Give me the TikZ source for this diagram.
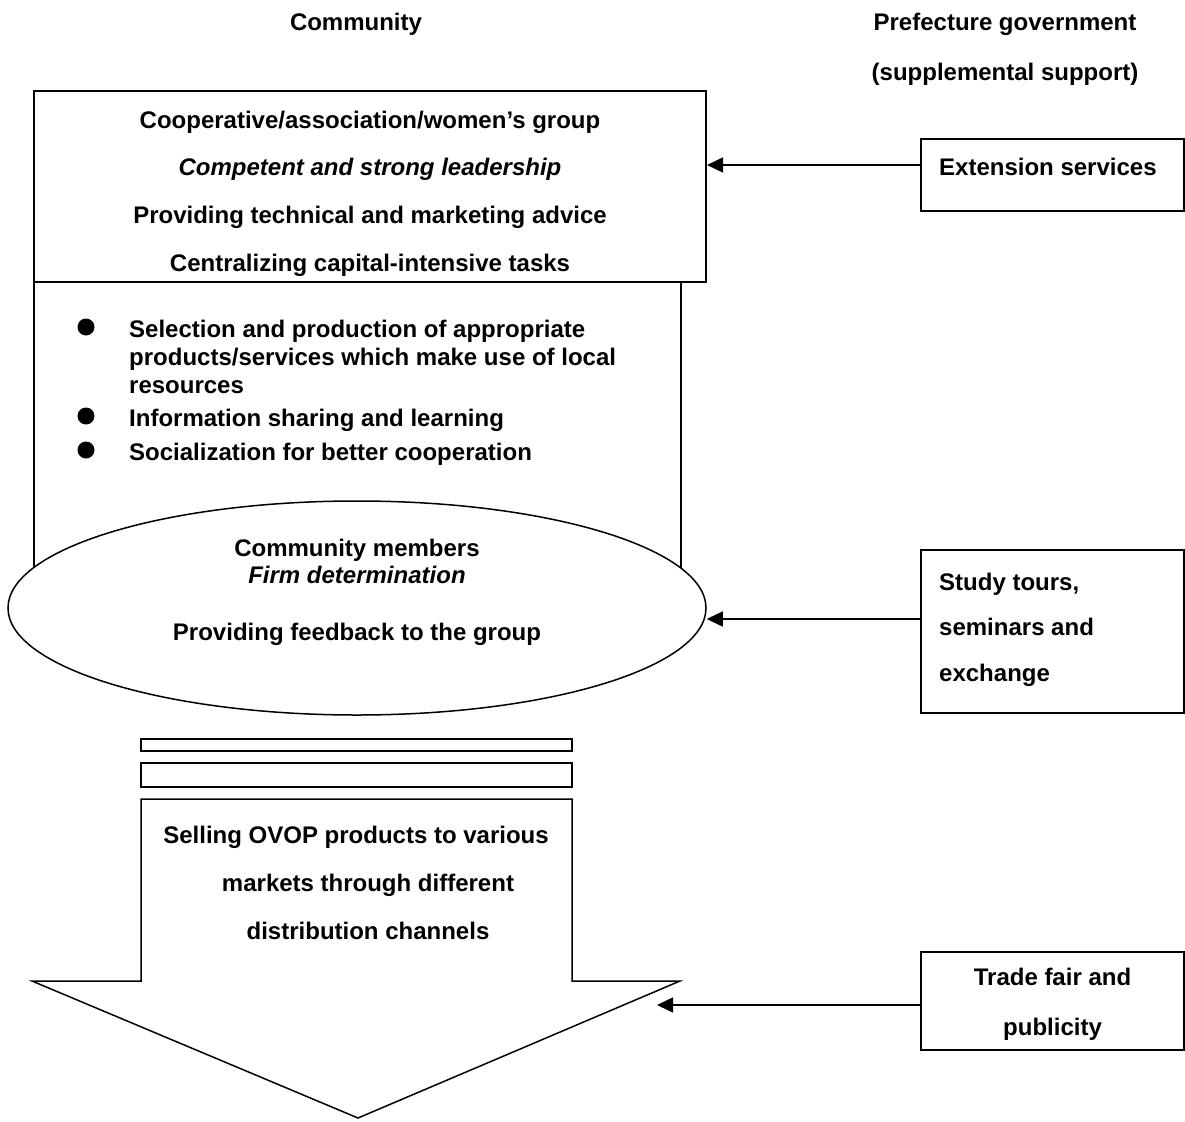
\documentclass[tikz,border=0pt]{standalone}
\usepackage{fontspec}
\setmainfont{Liberation Sans}
\usetikzlibrary{arrows.meta,shapes.geometric}
\begin{document}
\begin{tikzpicture}[x=1pt,y=-1pt,
  txt/.style={font=\fontsize{24}{28}\selectfont\bfseries, inner sep=0pt, anchor=base},
  itxt/.style={txt, font=\fontsize{24}{28}\selectfont\bfseries\itshape},
  ltxt/.style={txt, anchor=base west},
  boxl/.style={draw, line width=2pt, inner sep=0pt, fill=white},
  thin/.style={line width=1.5pt},
  conn/.style={line width=1.5pt, -{Triangle[length=16pt,width=15pt]}}
]
\useasboundingbox (0,0) rectangle (1185,1121);

% titles
\node[txt] (tcom) at (356,30.5) {Community};
\node[txt] (tpref) at (1005,30.5) {Prefecture government};
\node[txt] (tsup) at (1005,80.5) {(supplemental support)};

% lower open rectangle
\draw[thin] (34,282) -- (34,610);
\draw[thin] (681,282) -- (681,610);

% top box
\node[boxl, minimum width=672pt, minimum height=191pt] (topbox) at (370,186.5) {};
\node[txt] (t1) at (370,128.5) {Cooperative/association/women’s group};
\node[itxt] (t2) at (370,175.5) {Competent and strong leadership};
\node[txt] (t3) at (370,223.5) {Providing technical and marketing advice};
\node[txt] (t4) at (370,271.5) {Centralizing capital-intensive tasks};

% bullets
\fill (86,327) ellipse [x radius=8.5, y radius=8.5];
\fill (86,416) ellipse [x radius=8.5, y radius=8.5];
\fill (86,450) ellipse [x radius=8.5, y radius=8.5];
\node[ltxt] (b1) at (129,337.5) {Selection and production of appropriate};
\node[ltxt] (b2) at (129,365.5) {products/services which make use of local};
\node[ltxt] (b3) at (129,393.5) {resources};
\node[ltxt] (b4) at (129,426.5) {Information sharing and learning};
\node[ltxt] (b5) at (129,460.5) {Socialization for better cooperation};

% ellipse
\node[draw, ellipse, thin, fill=white, inner sep=0pt,
      minimum width=698pt, minimum height=214pt] (ell) at (357,608) {};
\node[txt] (e1) at (357,556.5) {Community members};
\node[itxt] (e2) at (357,583.5) {Firm determination};
\node[txt] (e3) at (357,640.5) {Providing feedback to the group};

% bars
\node[draw, thin, inner sep=0pt, minimum width=431pt, minimum height=12pt] (bar1) at (356.5,745) {};
\node[draw, thin, inner sep=0pt, minimum width=431pt, minimum height=24pt] (bar2) at (356.5,775) {};

% big arrow
\draw[thin, line join=miter] (141,799) -- (572,799) -- (572,981) -- (680,981)
  -- (358,1118) -- (32,981) -- (141,981) -- cycle;
\node[txt] (a1) at (356,843.5) {Selling OVOP products to various};
\node[txt] (a2) at (368,891.5) {markets through different};
\node[txt] (a3) at (368,939.5) {distribution channels};

% right boxes
\node[boxl, minimum width=263pt, minimum height=72pt] (ext) at (1052.5,175) {};
\node[ltxt] (extt) at (939,175.5) {Extension services};
\node[boxl, minimum width=263pt, minimum height=163pt] (study) at (1052.5,631.5) {};
\node[ltxt] (s1) at (939,590.5) {Study tours,};
\node[ltxt] (s2) at (939,635.5) {seminars and};
\node[ltxt] (s3) at (939,681.5) {exchange};
\node[boxl, minimum width=263pt, minimum height=98pt] (trade) at (1052.5,1001) {};
\node[txt] (tr1) at (1052.5,985.5) {Trade fair and};
\node[txt] (tr2) at (1052.5,1035.5) {publicity};

% connectors
\coordinate (ya) at (0,165);
\coordinate (yb) at (0,619);
\coordinate (tfend) at (657,1005);
\draw[conn] (ext.west |- ya) -- (topbox.east |- ya);
\draw[conn] (study.west |- yb) -- (ell.east |- yb);
\draw[conn] (trade.west |- tfend) -- (tfend);
\end{tikzpicture}
\end{document}
